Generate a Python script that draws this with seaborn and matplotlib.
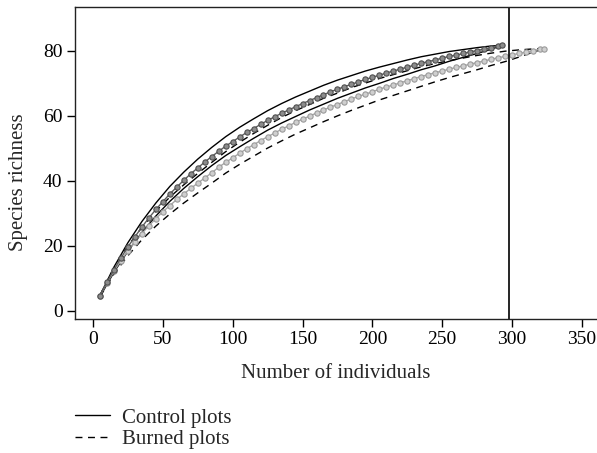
import matplotlib
matplotlib.use("Agg")
import matplotlib.pyplot as plt
from matplotlib.lines import Line2D
import seaborn as sns

# ---- data ----
ctrl_n = [5, 10, 15, 20, 25, 30, 35, 40, 45, 50, 55, 60, 65, 70, 75, 80, 85, 90, 95, 100,
          105, 110, 115, 120, 125, 130, 135, 140, 145, 150, 155, 160, 165, 170, 175, 180,
          185, 190, 195, 200, 205, 210, 215, 220, 225, 230, 235, 240, 245, 250, 255, 260,
          265, 270, 275, 280, 285, 290, 293]
ctrl_s = [4.6, 8.8, 12.7, 16.3, 19.7, 22.8, 25.8, 28.6, 31.2, 33.6, 36.0, 38.1, 40.2, 42.2,
          44.0, 45.8, 47.5, 49.1, 50.7, 52.1, 53.5, 54.9, 56.1, 57.4, 58.6, 59.7, 60.8, 61.8,
          62.8, 63.8, 64.7, 65.6, 66.5, 67.4, 68.2, 69.0, 69.7, 70.5, 71.2, 71.9, 72.5, 73.2,
          73.8, 74.4, 75.0, 75.6, 76.2, 76.7, 77.2, 77.8, 78.3, 78.7, 79.2, 79.7, 80.1, 80.6,
          81.0, 81.4, 81.7]

burn_n = [5, 10, 15, 20, 25, 30, 35, 40, 45, 50, 55, 60, 65, 70, 75, 80, 85, 90, 95, 100,
          105, 110, 115, 120, 125, 130, 135, 140, 145, 150, 155, 160, 165, 170, 175, 180,
          185, 190, 195, 200, 205, 210, 215, 220, 225, 230, 235, 240, 245, 250, 255, 260,
          265, 270, 275, 280, 285, 290, 295, 300, 305, 310, 315, 320, 323]
burn_s = [4.6, 8.6, 12.2, 15.5, 18.5, 21.2, 23.8, 26.2, 28.4, 30.5, 32.4, 34.3, 36.0, 37.7,
          39.3, 40.9, 42.5, 44.2, 45.7, 47.1, 48.5, 49.9, 51.1, 52.4, 53.6, 54.7, 55.9, 56.9,
          58.0, 59.0, 59.9, 60.9, 61.8, 62.7, 63.5, 64.4, 65.2, 66.0, 66.7, 67.4, 68.2, 68.9,
          69.5, 70.2, 70.8, 71.5, 72.1, 72.7, 73.3, 73.8, 74.4, 74.9, 75.4, 75.9, 76.4, 76.9,
          77.4, 77.9, 78.3, 78.8, 79.2, 79.6, 80.1, 80.5, 80.7]

ctrl_ci_n = [5, 15, 25, 35, 45, 55, 65, 75, 85, 95, 105, 115, 125, 135, 145, 155, 165, 175,
             185, 195, 205, 215, 225, 235, 245, 255, 265, 275, 285, 293]
ctrl_upper = [4.8, 13.5, 21.0, 27.5, 33.2, 38.3, 42.7, 46.7, 50.3, 53.6, 56.5, 59.1, 61.6,
              63.8, 65.8, 67.6, 69.4, 71.0, 72.4, 73.8, 75.0, 76.1, 77.2, 78.2, 79.0, 79.8,
              80.4, 81.0, 81.5, 81.7]
ctrl_lower = [4.4, 11.9, 18.4, 24.1, 29.2, 33.7, 37.7, 41.3, 44.7, 47.8, 50.5, 53.1, 55.6,
              57.8, 59.8, 61.8, 63.6, 65.4, 67.0, 68.6, 70.0, 71.5, 72.8, 74.2, 75.4, 76.8,
              78.0, 79.2, 80.5, 81.7]

burn_ci_n = [5, 15, 25, 35, 45, 55, 65, 75, 85, 95, 105, 115, 125, 135, 145, 155, 165, 175,
             185, 195, 205, 215, 225, 235, 245, 255, 265, 275, 285, 295, 305, 315, 323]
burn_upper = [4.8, 13.1, 20.0, 25.7, 30.7, 35.0, 38.8, 42.3, 45.7, 49.0, 51.9, 54.6, 57.1,
              59.5, 61.6, 63.5, 65.4, 67.0, 68.7, 70.1, 71.5, 72.7, 73.9, 75.1, 76.1, 77.0,
              77.8, 78.6, 79.3, 79.9, 80.3, 80.6, 80.7]
burn_lower = [4.4, 11.3, 17.0, 21.9, 26.1, 29.8, 33.2, 36.3, 39.3, 42.4, 45.1, 47.6, 50.1,
              52.3, 54.4, 56.3, 58.2, 60.0, 61.7, 63.3, 64.9, 66.3, 67.7, 69.1, 70.5, 71.8,
              73.0, 74.2, 75.5, 76.7, 78.1, 79.6, 80.7]

vline_x = 298
x_ticks = [0, 50, 100, 150, 200, 250, 300, 350]
y_ticks = [0, 20, 40, 60, 80]
legend_labels = ["Control plots", "Burned plots"]

# ---- figure ----
sns.set_theme(style="ticks")
plt.rcParams["font.family"] = ["Liberation Serif", "DejaVu Serif"]

W, H = 597, 453
FS = 15
TFS = 14
fig = plt.figure(figsize=(W / 100, H / 100), dpi=100)
ax_left, ax_right, ax_top, ax_bot = 75, 597, 7, 319
ax = fig.add_axes([ax_left / W, (H - ax_bot) / H, (ax_right - ax_left) / W, (ax_bot - ax_top) / H])

def line(x, y, **kw):
    sns.lineplot(x=x, y=y, ax=ax, estimator=None, sort=False, legend=False, **kw)

dash = (0, (5, 4))
# confidence lines
line(ctrl_ci_n, ctrl_upper, color="black", linewidth=1.0)
line(ctrl_ci_n, ctrl_lower, color="black", linewidth=1.0)
line(burn_ci_n, burn_upper, color="black", linewidth=1.0, linestyle=dash)
line(burn_ci_n, burn_lower, color="black", linewidth=1.0, linestyle=dash)

# rarefaction means
line(burn_n, burn_s, color="#a6a6a6", linewidth=1.0, marker="o", markersize=3.8,
     markerfacecolor="#cfcfcf", markeredgecolor="#9a9a9a", markeredgewidth=0.8)
line(ctrl_n, ctrl_s, color="#5c5c5c", linewidth=1.0, marker="o", markersize=3.8,
     markerfacecolor="#8c8c8c", markeredgecolor="#4f4f4f", markeredgewidth=0.8)

ax.axvline(vline_x, color="black", linewidth=1.2)

ax.set_xlim(-12.9, 360.8)
ax.set_ylim(-2.5, 93.5)
ax.set_xticks(x_ticks)
ax.set_yticks(y_ticks)
ax.tick_params(axis="both", direction="out", length=6, width=1, labelsize=TFS,
               colors="black", pad=3)
for side in ["left", "bottom", "top"]:
    ax.spines[side].set_visible(True)
    ax.spines[side].set_linewidth(1.0)
    ax.spines[side].set_color("#222222")
ax.spines["right"].set_visible(False)

ax.set_xlabel("Number of individuals", fontsize=FS)
ax.set_ylabel("Species richness", fontsize=FS)
ax_w = ax_right - ax_left
ax_h = ax_bot - ax_top
ax.xaxis.set_label_coords(0.5, (ax_bot - 364) / ax_h)
ax.yaxis.set_label_coords((28 - ax_left) / ax_w, (ax_bot - 182) / ax_h)

handles = [Line2D([], [], color="black", linewidth=1.0),
           Line2D([], [], color="black", linewidth=1.0, linestyle=dash)]
fig.legend(handles, legend_labels, loc="upper left", bbox_to_anchor=(71 / W, 1 - 404 / H),
           frameon=False, fontsize=FS, handlelength=1.65, handletextpad=0.6,
           labelspacing=0.1, borderaxespad=0, borderpad=0.2)

fig.savefig("out.png", dpi=100)
